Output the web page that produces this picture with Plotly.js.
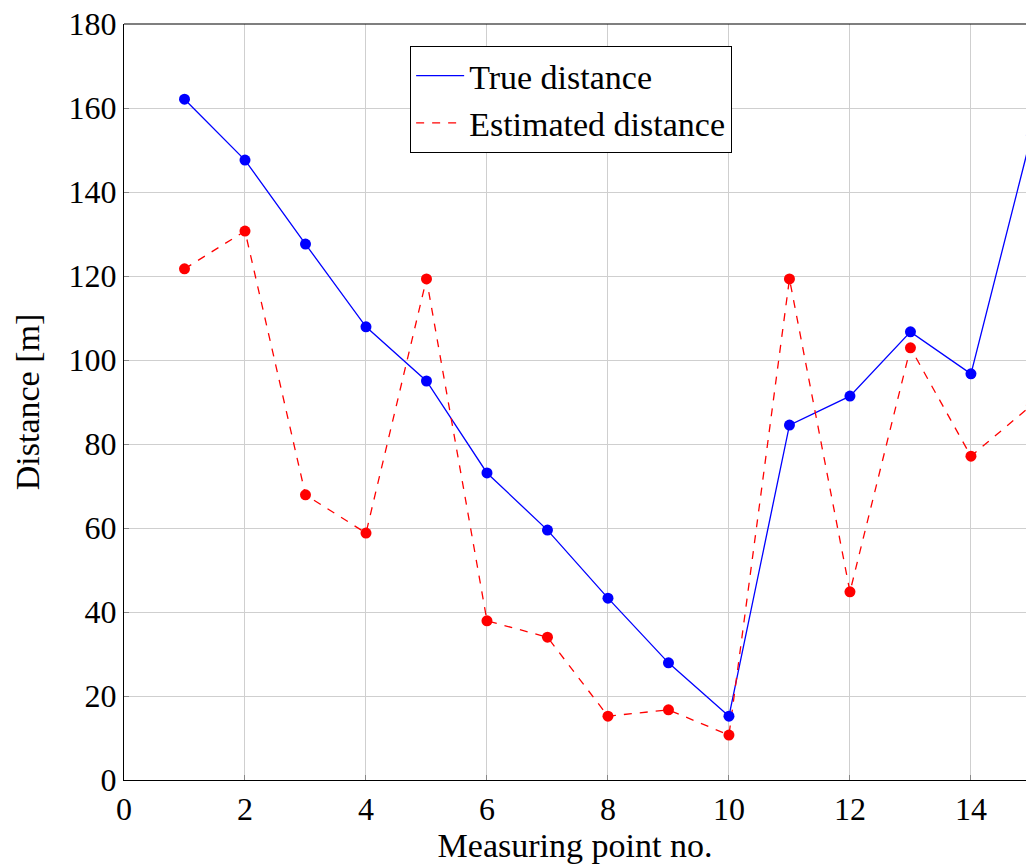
<!DOCTYPE html>
<html>
<head>
<meta charset="utf-8">
<script src="https://cdn.plot.ly/plotly-3.0.1.min.js"></script>
<style>html,body{margin:0;padding:0;background:#fff;}#chart{width:1026px;height:864px;}</style>
</head>
<body>
<div id="chart"></div>
<script>
const points = [1, 2, 3, 4, 5, 6, 7, 8, 9, 10, 11, 12, 13, 14, 15];
const trueDistance = [162.1, 147.6, 127.6, 107.9, 95.0, 73.1, 59.5, 43.3, 27.9, 15.2, 84.5, 91.4, 106.7, 96.7, 153.5];
const estimatedDistance = [121.7, 130.7, 67.9, 58.8, 119.3, 37.9, 34.0, 15.2, 16.7, 10.7, 119.3, 44.8, 102.9, 77.1, 89.2];
const xTicks = [0, 2, 4, 6, 8, 10, 12, 14];
const yTicks = [0, 20, 40, 60, 80, 100, 120, 140, 160, 180];
const seriesNames = ["True distance", "Estimated distance"];

const font = "'Liberation Serif', 'Times New Roman', serif";
const traces = [
  {x: points, y: trueDistance, name: seriesNames[0], mode: "lines",
   line: {color: "#0000ff", width: 1.3}, showlegend: true},
  {x: points, y: estimatedDistance, name: seriesNames[1], mode: "lines",
   line: {color: "#ff0000", width: 1.3, dash: "8px,8px"}, showlegend: true},
  {x: points, y: trueDistance, mode: "markers", marker: {color: "#0000ff", size: 11},
   showlegend: false, hoverinfo: "skip"},
  {x: points, y: estimatedDistance, mode: "markers", marker: {color: "#ff0000", size: 11},
   showlegend: false, hoverinfo: "skip"}
];
const layout = {
  width: 1026, height: 864,
  margin: {l: 124, r: 0, t: 24, b: 84},
  paper_bgcolor: "#fff", plot_bgcolor: "#fff",
  font: {family: font, size: 32, color: "#000"},
  xaxis: {
    range: [0, 14.91], tickvals: xTicks, ticktext: xTicks.map(String),
    showgrid: true, gridcolor: "#cfcfcf", gridwidth: 1,
    showline: true, linecolor: "#000", linewidth: 1.2,
    ticks: "inside", ticklen: 5, tickcolor: "#888",
    zeroline: false,
    tickfont: {family: font, size: 32},
    title: {text: "Measuring point no.", font: {family: font, size: 34}, standoff: 6}
  },
  yaxis: {
    range: [0, 180], tickvals: yTicks, ticktext: yTicks.map(String),
    showgrid: true, gridcolor: "#cfcfcf", gridwidth: 1,
    showline: true, linecolor: "#000", linewidth: 1.2,
    ticks: "inside", ticklen: 5, tickcolor: "#888",
    zeroline: false,
    tickfont: {family: font, size: 32},
    title: {text: "Distance [m]", font: {family: font, size: 34}, standoff: 18}
  },
  legend: {
    x: 0.317, y: 0.971, xanchor: "left", yanchor: "top",
    bgcolor: "#fff", bordercolor: "#000", borderwidth: 1.2,
    font: {family: font, size: 34}, tracegroupgap: 0, itemwidth: 48
  },
  shapes: [
    {type: "line", xref: "paper", yref: "paper", x0: 0, x1: 1, y0: 1, y1: 1,
     line: {color: "#000", width: 1.2}}
  ]
};
Plotly.newPlot("chart", traces, layout, {displayModeBar: false, staticPlot: true});
</script>
</body>
</html>
